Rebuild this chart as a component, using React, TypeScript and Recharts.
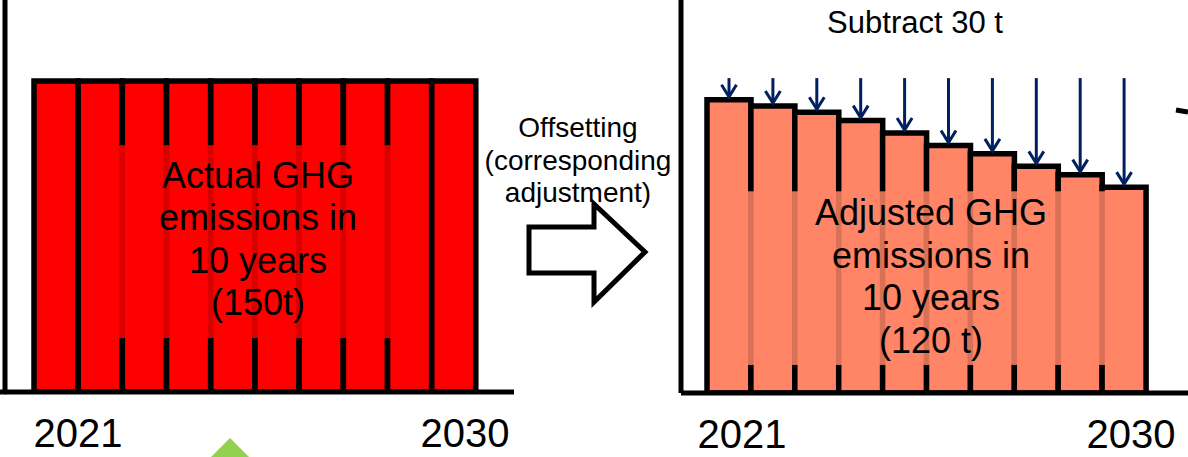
import React from "react";
import { Bar, BarChart, ReferenceArea, XAxis, YAxis } from "recharts";

const years = ["2021", "2022", "2023", "2024", "2025", "2026", "2027", "2028", "2029", "2030"];
const actualEmissions = [15, 15, 15, 15, 15, 15, 15, 15, 15, 15];
const adjustedEmissions = [14.1, 13.8, 13.5, 13.1, 12.5, 11.9, 11.5, 10.9, 10.5, 9.9];
const offsetAmounts = [0.9, 1.2, 1.5, 1.9, 2.5, 3.1, 3.5, 4.1, 4.5, 5.1];
const edgeLabels = ["2021", "2030"];

const actualLines = ["Actual GHG", "emissions in", "10 years", "(150t)"];
const adjustedLines = ["Adjusted GHG", "emissions in", "10 years", "(120 t)"];
const arrowLines = ["Offsetting", "(corresponding", "adjustment)"];

const FONT = "'Liberation Sans', Arial, sans-serif";
const NAVY = "#002060";
const RED = "#ff0000";
const SALMON = "#ff8566";

const leftData = years.map((year, i) => ({ year, actual: actualEmissions[i] }));
const rightData = years.map((year, i) => ({
  year,
  adjusted: adjustedEmissions[i],
  offset: offsetAmounts[i],
}));

function yearTick(shift: [number, number]) {
  return (props: any) => {
    const { x, y, payload } = props;
    const i = edgeLabels.indexOf(payload.value);
    if (i < 0) return <g />;
    return (
      <text x={x + shift[i]} y={y + 55} textAnchor="middle" fontSize={40} fontFamily={FONT} fill="#000">
        {payload.value}
      </text>
    );
  };
}

// arrow drawn down the stacked "offset" segment, tip resting on the adjusted bar
function OffsetArrow(props: any) {
  const { x, y, width, height } = props;
  if (width == null || height == null) return <g />;
  const cx = x + width / 2;
  const top = y - 3;
  const tip = y + height - 3;
  return (
    <g stroke={NAVY} strokeWidth={3} fill="none">
      <line x1={cx} y1={top} x2={cx} y2={tip} />
      <polyline points={`${cx - 7.5},${tip - 12} ${cx},${tip} ${cx + 7.5},${tip - 12}`} />
    </g>
  );
}

const boxShape = (fill: string) => (p: any) => (
  <rect x={p.x - 4} y={p.y} width={p.width + 8} height={p.height} fill={fill} fillOpacity={0.85} />
);

const axisLine = { stroke: "#000", strokeWidth: 5 };

export default function App() {
  return (
    <div style={{ position: "absolute", left: 0, top: 0, width: 1188, height: 457, background: "#fff", overflow: "hidden" }}>
      <div style={{ position: "absolute", left: 0, top: 0 }}>
        <BarChart
          width={520}
          height={457}
          data={leftData}
          margin={{ top: 0, right: 6, bottom: 0, left: 0 }}
          barCategoryGap={0}
          barGap={0}
        >
          <XAxis
            dataKey="year"
            height={65}
            padding={{ left: 29, right: 38 }}
            interval={0}
            tickLine={false}
            tickSize={0}
            tickMargin={0}
            axisLine={axisLine}
            tick={yearTick([22, 11])}
          />
          <YAxis width={5} domain={[0, 18.9]} allowDataOverflow tick={false} tickLine={false} axisLine={axisLine} />
          <Bar dataKey="actual" fill={RED} stroke="#000" strokeWidth={5.5} isAnimationActive={false} />
          <ReferenceArea
            x1="2023"
            x2="2028"
            y1={2.6}
            y2={11.9}
            ifOverflow="visible"
            shape={boxShape(RED)}
            {...({ zIndex: 450 } as any)}
          />
        </BarChart>
      </div>

      <div style={{ position: "absolute", left: 676, top: 0 }}>
        <BarChart
          width={512}
          height={457}
          data={rightData}
          margin={{ top: 0, right: 0, bottom: 0, left: 0 }}
          barCategoryGap={0}
          barGap={0}
        >
          <XAxis
            dataKey="year"
            height={64}
            padding={{ left: 26, right: 42 }}
            interval={0}
            tickLine={false}
            tickSize={0}
            tickMargin={0}
            axisLine={axisLine}
            tick={yearTick([13, 7])}
          />
          <YAxis width={5} domain={[0, 18.9]} allowDataOverflow tick={false} tickLine={false} axisLine={axisLine} />
          <Bar dataKey="adjusted" stackId="e" fill={SALMON} stroke="#000" strokeWidth={5.5} isAnimationActive={false} />
          <Bar dataKey="offset" stackId="e" shape={OffsetArrow} isAnimationActive={false} />
          <ReferenceArea
            x1="2022"
            x2="2029"
            y1={1.35}
            y2={9.7}
            ifOverflow="visible"
            shape={boxShape(SALMON)}
            {...({ zIndex: 450 } as any)}
          />
        </BarChart>
      </div>

      <svg
        width={1188}
        height={457}
        style={{ position: "absolute", left: 0, top: 0, pointerEvents: "none" }}
        fontFamily={FONT}
      >
        <line x1={0} y1={392} x2={6} y2={392} stroke="#000" strokeWidth={5} />
        <text textAnchor="middle" fontSize={36} fill="#000">
          {actualLines.map((t, i) => (
            <tspan key={t} x={258} y={188 + i * 42.3}>
              {t}
            </tspan>
          ))}
        </text>
        <text textAnchor="middle" fontSize={36} fill="#000">
          {adjustedLines.map((t, i) => (
            <tspan key={t} x={931} y={225 + i * 42.7}>
              {t}
            </tspan>
          ))}
        </text>
        <text textAnchor="middle" fontSize={28} fill="#000">
          {arrowLines.map((t, i) => (
            <tspan key={t} x={578} y={137 + i * 32.5}>
              {t}
            </tspan>
          ))}
        </text>
        <text x={915} y={33} textAnchor="middle" fontSize={31} fill="#000">
          Subtract 30 t
        </text>
        <polygon
          points="529,227 594,227 594,204 645,252 594,302 594,273 529,273"
          fill="#fff"
          stroke="#000"
          strokeWidth={5}
        />
        <polygon points="211,457 230,438 249,457" fill="#92d050" />
        <line x1={1176} y1={110} x2={1188} y2={112} stroke="#000" strokeWidth={5} />
      </svg>
    </div>
  );
}
